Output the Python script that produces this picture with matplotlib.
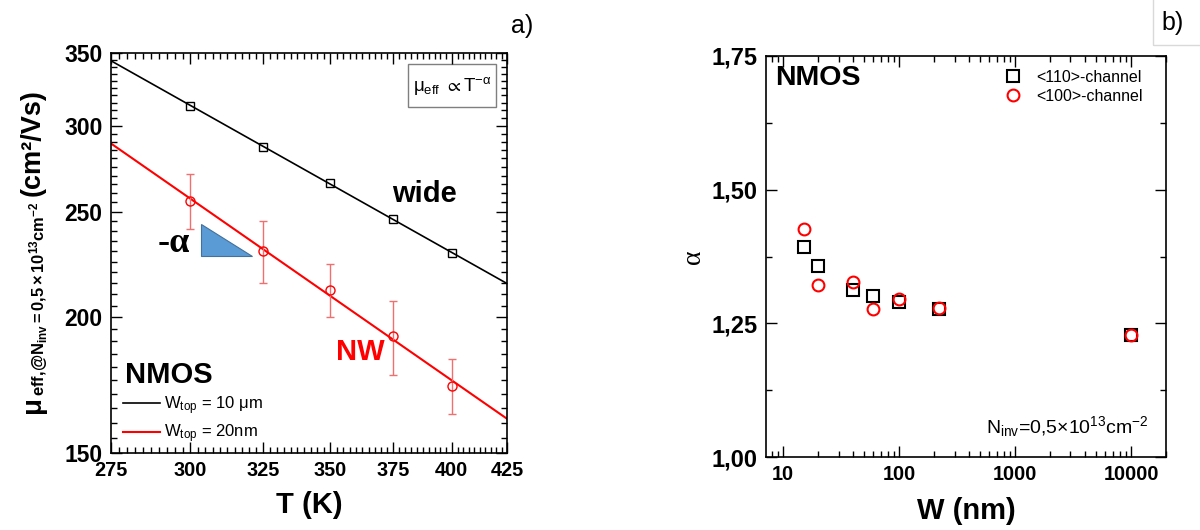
import numpy as np
import matplotlib
matplotlib.use('Agg')
import matplotlib.pyplot as plt
from matplotlib.patches import Polygon, Rectangle
from matplotlib.ticker import NullFormatter

plt.rcParams['font.family'] = ['Liberation Sans', 'DejaVu Sans']
plt.rcParams['mathtext.fontset'] = 'custom'
plt.rcParams['mathtext.rm'] = 'Liberation Sans'
plt.rcParams['mathtext.it'] = 'Liberation Sans:italic'
plt.rcParams['mathtext.bf'] = 'Liberation Sans:bold'
plt.rcParams['mathtext.default'] = 'regular'

## panel a: mobility vs temperature (log-log)
temp = [300, 325, 350, 375, 400]
mu_wide = [313, 287, 266, 246, 229]
mu_nw = [256, 230, 212, 192, 173]
mu_nw_err = [15, 15, 12, 15, 10]
temp_ticks = [275, 300, 325, 350, 375, 400, 425]
mu_ticks = [150, 200, 250, 300, 350]

## panel b: alpha vs width
width = [15, 20, 40, 60, 100, 220, 10000]
alpha_110 = [1.392, 1.358, 1.312, 1.301, 1.289, 1.277, 1.228]
alpha_100 = [1.426, 1.321, 1.328, 1.277, 1.296, 1.279, 1.229]
alpha_ticks = [1.00, 1.25, 1.50, 1.75]
alpha_labels = ['1,00', '1,25', '1,50', '1,75']
w_ticks = [10, 100, 1000, 10000]


def powerfit(x, y, xr):
    # straight line in log-log = power law mu ~ T^-alpha
    k, b = np.polyfit(np.log(x), np.log(y), 1)
    return np.exp(b) * xr ** k


def style_ticks(ax, xsize, ysize):
    ax.tick_params(which='both', direction='in', top=True, right=True, width=1)
    ax.tick_params(which='major', length=8)
    ax.tick_params(which='minor', length=4)
    ax.tick_params(axis='x', labelsize=xsize, pad=6)
    ax.tick_params(axis='y', labelsize=ysize, pad=6)
    for lab in ax.get_xticklabels() + ax.get_yticklabels():
        lab.set_fontweight('bold')
    for s in ax.spines.values():
        s.set_linewidth(1.2)


fig = plt.figure(figsize=(12, 5.3), dpi=100)
ax1 = fig.add_axes([111 / 1200, 77 / 530, 396 / 1200, 400 / 530])
ax2 = fig.add_axes([766 / 1200, 73 / 530, 400 / 1200, 401 / 530])

### chart a
tt = np.geomspace(275, 425, 60)
ax1.plot(tt, powerfit(temp, mu_wide, tt), color='black', lw=1.2, label=r'W$_{top}$ = 10 μm')
ax1.plot(tt, powerfit(temp, mu_nw, tt), color='red', lw=1.5, label=r'W$_{top}$ = 20nm')
ax1.plot(temp, mu_wide, 's', mfc='none', mec='black', ms=6, mew=1)
ax1.errorbar(temp, mu_nw, yerr=mu_nw_err, fmt='o', mfc='none', mec='red', ms=6.5, mew=1,
             ecolor='#f07070', elinewidth=1, capsize=3.2, capthick=1)

ax1.set_xscale('log')
ax1.set_yscale('log')
ax1.set_xlim(275, 425)
ax1.set_ylim(150, 350)
ax1.set_xticks(temp_ticks, labels=[str(t) for t in temp_ticks])
ax1.set_xticks(np.arange(277.5, 425, 2.5), minor=True)
ax1.set_yticks(mu_ticks, labels=[str(m) for m in mu_ticks])
ax1.set_yticks(np.arange(155, 350, 5), minor=True)
ax1.xaxis.set_minor_formatter(NullFormatter())
ax1.yaxis.set_minor_formatter(NullFormatter())
style_ticks(ax1, 14.3, 16.5)

ax1.set_xlabel('T (K)', fontsize=21, fontweight='bold')
ax1.xaxis.set_label_coords(0.5, -0.095)

ax1.text(0.71, 0.6475, 'wide', transform=ax1.transAxes, fontsize=21, fontweight='bold', va='center')
ax1.text(0.568, 0.2535, 'NW', transform=ax1.transAxes, fontsize=21, fontweight='bold', va='center', color='red')
ax1.text(0.035, 0.195, 'NMOS', transform=ax1.transAxes, fontsize=21, fontweight='bold', va='center')
ax1.text(0.159, 0.525, '-α', transform=ax1.transAxes, fontsize=26, fontweight='bold',
         family=['Liberation Serif'], ha='center', va='center')
ax1.add_patch(Polygon([(0.227, 0.5725), (0.227, 0.4925), (0.356, 0.4925)], closed=True,
                      transform=ax1.transAxes, facecolor='#5b9bd5', edgecolor='#41719c', lw=0.8))
ax1.add_patch(Rectangle((0.75, 0.864), 0.222, 0.1095, transform=ax1.transAxes,
                        fill=False, edgecolor='#7f7f7f', lw=1))
ax1.text(0.861, 0.918, r'$\mu_{eff}$ $\propto$T$^{-\alpha}$', transform=ax1.transAxes,
         fontsize=13.5, ha='center', va='center')
ax1.legend(loc='upper left', bbox_to_anchor=(0.030, 0.1475), frameon=False, fontsize=12,
           handlelength=2.2, handletextpad=0.25, labelspacing=0.35, borderpad=0, borderaxespad=0)

### chart b
ax2.plot(width, alpha_110, 's', mfc='none', mec='black', ms=8, mew=1.5, label='<110>-channel')
ax2.plot(width, alpha_100, 'o', mfc='none', mec='red', ms=8.5, mew=1.5, label='<100>-channel')
ax2.set_xscale('log')
ax2.set_xlim(7.1, 20000)
ax2.set_ylim(1.0, 1.75)
ax2.set_xticks(w_ticks, labels=[str(w) for w in w_ticks])
ax2.xaxis.set_minor_formatter(NullFormatter())
ax2.set_yticks(alpha_ticks, labels=alpha_labels)
ax2.set_yticks([1.125, 1.375, 1.625], minor=True)
style_ticks(ax2, 14.3, 17)

ax2.set_xlabel('W (nm)', fontsize=21, fontweight='bold')
ax2.xaxis.set_label_coords(0.5, -0.1)
ax2.set_ylabel('α', fontsize=20, family=['Liberation Serif'])
ax2.yaxis.set_label_coords(-0.15, 0.5)

ax2.text(0.0225, 0.9456, 'NMOS', transform=ax2.transAxes, fontsize=20.5, fontweight='bold', va='center')
ax2.text(0.9575, 0.059, r'N$_{inv}$=0,5×10$^{13}$cm$^{-2}$', transform=ax2.transAxes,
         fontsize=14, ha='right', va='baseline')
ax2.legend(loc='upper left', bbox_to_anchor=(0.5975, 0.965), frameon=False, fontsize=11.5,
           handlelength=1.0, handletextpad=0.94, labelspacing=0.22, borderpad=0, borderaxespad=0)

## panel tags
fig.text(522 / 1200, 1 - 26 / 530, 'a)', fontsize=18, ha='center', va='center')
fig.text(1172.5 / 1200, 1 - 23 / 530, 'b)', fontsize=18, ha='center', va='center')
fig.add_artist(Rectangle((1153 / 1200, 1 - 45 / 530), 0.1, 0.2, transform=fig.transFigure,
                         fill=False, edgecolor='#d9d9d9', lw=1))

## y label of panel a built from three rotated pieces (small subscript block)
fig.canvas.draw()
rend = fig.canvas.get_renderer()
x0, y0 = 40, 117
t1 = fig.text(x0 / 1200, y0 / 530, 'μ', rotation=90, rotation_mode='anchor', ha='left',
              va='baseline', fontsize=20, fontweight='bold')
h = t1.get_window_extent(rend).height
t2 = fig.text((x0 + 1) / 1200, (y0 + h) / 530,
              r'$\mathbf{{}_{eff{,}@N_{inv}=0{,}5\times10^{13}cm^{-2}}}$', rotation=90,
              rotation_mode='anchor', ha='left', va='baseline', fontsize=17)
h += t2.get_window_extent(rend).height
fig.text(x0 / 1200, (y0 + h + 6) / 530, '(cm²/Vs)', rotation=90, rotation_mode='anchor',
         ha='left', va='baseline', fontsize=19.5, fontweight='bold')

fig.savefig('out.png', dpi=100)
